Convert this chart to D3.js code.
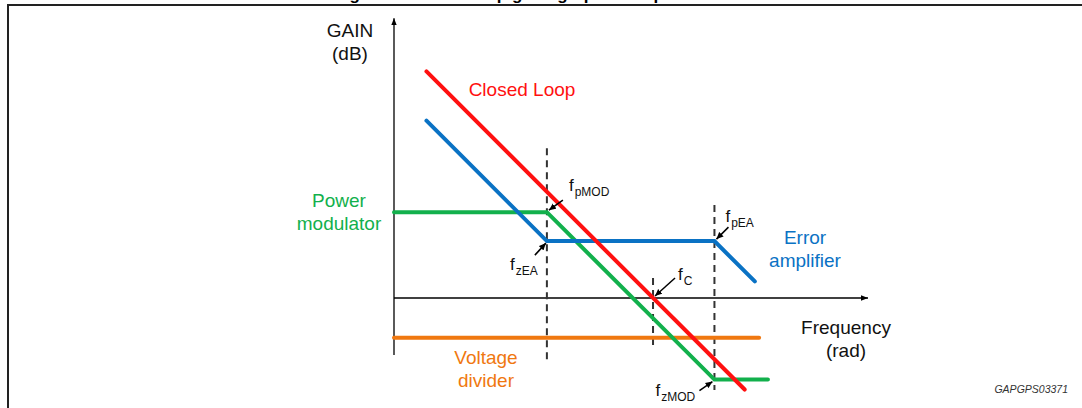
<!DOCTYPE html>
<html>
<head>
<meta charset="utf-8">
<script src="https://cdn.jsdelivr.net/npm/d3@7"></script>
<style>
  body { margin: 0; background: #fff; }
  text { font-family: "Liberation Sans", Arial, sans-serif; }
</style>
</head>
<body>
<div id="chart"></div>
<script>
// Bode plot (schematic), frequency in rad/s on a log axis, gain in dB
const closedLoop   = [[2.2, 47.8], [5000, -19.3]]
const errorAmp     = [[2.2, 37.4], [41, 12], [2400, 12], [6400, 3.5]]
const powerMod     = [[1, 18.1], [41, 18.1], [2400, -17.2], [8800, -17.2]]
const voltageDiv   = [[1, -8.4], [7100, -8.4]]

// corner frequencies and the dB span of their dashed guides
const guideFreqs   = [41, 540, 2400]
const guideTop     = [31.6, 4.2, 19.6]
const guideBottom  = [-13.1, -10.3, -19.4]

// annotations: main letter, subscript, frequency, gain of the point marked
const annMain = ["f", "f", "f", "f", "f"]
const annSub  = ["pMOD", "zEA", "C", "pEA", "zMOD"]
const annFreq = [41, 41, 540, 2400, 2400]
const annGain = [18.1, 12, 0, 12, -17.2]

const W = 1082, H = 408

let svg = d3.select("#chart").append("svg")
    .attr("width", W)
    .attr("height", H)

// scales: 94.8 px per decade, 20 dB per decade drawn at 45 degrees
let x = d3.scaleLog().domain([1, 1e5]).range([394, 868])
let y = d3.scaleLinear().domain([-12, 59]).range([354.9, 18.3])

let defs = svg.append("defs")
defs.append("marker")
    .attr("id", "axisArrow")
    .attr("viewBox", "0 -5 10 10")
    .attr("refX", 10).attr("refY", 0)
    .attr("markerWidth", 7).attr("markerHeight", 7)
    .attr("markerUnits", "userSpaceOnUse")
    .attr("orient", "auto")
    .append("path")
    .attr("d", "M0,-4L10,0L0,4Z")
    .attr("fill", "#000")
defs.append("marker")
    .attr("id", "annArrow")
    .attr("viewBox", "0 -5 10 10")
    .attr("refX", 10).attr("refY", 0)
    .attr("markerWidth", 7).attr("markerHeight", 7)
    .attr("markerUnits", "userSpaceOnUse")
    .attr("orient", "auto")
    .append("path")
    .attr("d", "M0,-4.5L10,0L0,4.5Z")
    .attr("fill", "#000")

// frame and title (cropped at the top edge, as in the source figure)
svg.append("text")
    .attr("x", 545).attr("y", 0)
    .attr("text-anchor", "middle")
    .attr("font-size", 17).attr("font-weight", "bold")
    .text("Figure 8. Closed loop gain: graphical representation")
svg.append("path")
    .attr("d", "M8," + H + "V5H" + W)
    .attr("fill", "none")
    .attr("stroke", "#222")
    .attr("stroke-width", 2)

// axes
svg.append("line")
    .attr("x1", x(1)).attr("x2", x(1))
    .attr("y1", y(-12)).attr("y2", y(59))
    .attr("stroke", "#000").attr("stroke-width", 1.3)
    .attr("marker-end", "url(#axisArrow)")
svg.append("line")
    .attr("x1", x(1)).attr("x2", x(1e5))
    .attr("y1", y(0)).attr("y2", y(0))
    .attr("stroke", "#000").attr("stroke-width", 1.3)
    .attr("marker-end", "url(#axisArrow)")

// dashed guides
svg.append("g").selectAll("line")
    .data(guideFreqs)
    .enter()
    .append("line")
        .attr("x1", d => x(d)).attr("x2", d => x(d))
        .attr("y1", (d, i) => y(guideTop[i]))
        .attr("y2", (d, i) => y(guideBottom[i]))
        .attr("stroke", "#333")
        .attr("stroke-width", 2)
        .attr("stroke-dasharray", "7,5")

// curves
let line = d3.line().x(d => x(d[0])).y(d => y(d[1]))
let series = [
    { pts: voltageDiv, color: "#f07810" },
    { pts: powerMod,   color: "#12b04c" },
    { pts: errorAmp,   color: "#0a72c4" },
    { pts: closedLoop, color: "#ff1010" },
]
svg.append("g").selectAll("path")
    .data(series)
    .enter()
    .append("path")
        .attr("d", d => line(d.pts))
        .attr("fill", "none")
        .attr("stroke", d => d.color)
        .attr("stroke-width", 4)
        .attr("stroke-linecap", "round")
        .attr("stroke-linejoin", "miter")

// series labels
let labels = [
    { lines: ["GAIN", "(dB)"],            x: 350, y: 37,  color: "#111" },
    { lines: ["Closed Loop"],             x: 522, y: 96,  color: "#ff1010" },
    { lines: ["Power", "modulator"],      x: 339, y: 207, color: "#12b04c" },
    { lines: ["Error", "amplifier"],      x: 805, y: 244, color: "#0a72c4" },
    { lines: ["Frequency", "(rad)"],      x: 846, y: 334, color: "#111" },
    { lines: ["Voltage", "divider"],      x: 486, y: 364, color: "#f07810" },
]
labels.forEach((lab) => {
    let t = svg.append("text")
        .attr("text-anchor", "middle")
        .attr("font-size", 19)
        .attr("fill", lab.color)
    lab.lines.forEach((s, i) => {
        t.append("tspan")
            .attr("x", lab.x)
            .attr("y", lab.y + i * 23)
            .text(s)
    })
})

// annotation layout: text offset and arrow start offset from the marked point
const annLayout = [
    { tx: 22,  ty: -21, ax: 16,  ay: -12, bx: 2,  by: -2 },
    { tx: -37, ty: 29,  ax: -12, ay: 14,  bx: -1, by: 2 },
    { tx: 25,  ty: -18, ax: 22,  ay: -20, bx: 2,  by: -2 },
    { tx: 11,  ty: -19, ax: 14,  ay: -14, bx: 2,  by: -2 },
    { tx: -59, ty: 16,  ax: -15, ay: 11,  bx: -2, by: 2 },
]
let ann = svg.append("g").selectAll("g")
    .data(annSub)
    .enter()
    .append("g")
ann.append("line")
    .attr("x1", (d, i) => x(annFreq[i]) + annLayout[i].ax)
    .attr("y1", (d, i) => y(annGain[i]) + annLayout[i].ay)
    .attr("x2", (d, i) => x(annFreq[i]) + annLayout[i].bx)
    .attr("y2", (d, i) => y(annGain[i]) + annLayout[i].by)
    .attr("stroke", "#000")
    .attr("stroke-width", 1.5)
    .attr("marker-end", "url(#annArrow)")
let annText = ann.append("text")
    .attr("x", (d, i) => x(annFreq[i]) + annLayout[i].tx)
    .attr("y", (d, i) => y(annGain[i]) + annLayout[i].ty)
    .attr("font-size", 17)
    .attr("fill", "#111")
annText.append("tspan").text((d, i) => annMain[i])
annText.append("tspan")
    .attr("font-size", 12)
    .attr("dy", 5)
    .attr("dx", 1)
    .text(d => d)

// figure code
svg.append("text")
    .attr("x", 1068).attr("y", 393)
    .attr("text-anchor", "end")
    .attr("font-size", 10.5)
    .attr("font-style", "italic")
    .attr("fill", "#333")
    .text("GAPGPS03371")
</script>
</body>
</html>
